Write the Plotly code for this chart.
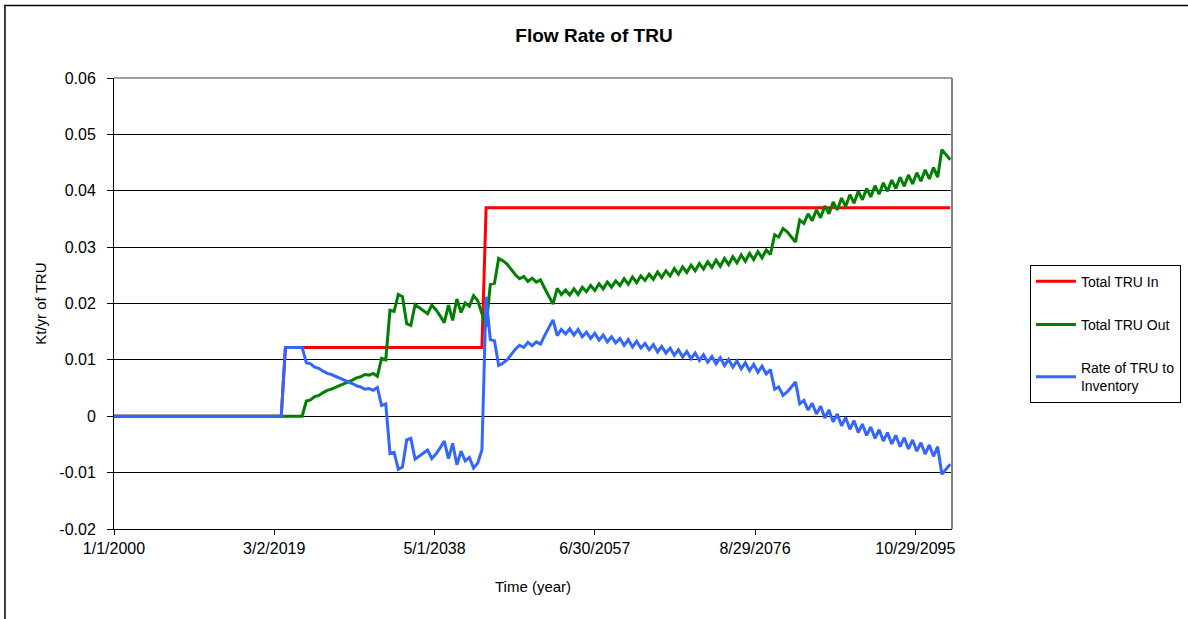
import plotly.graph_objects as go
import pandas as pd
import numpy as np

# half-year time steps, 2000.0 .. 2100.0
dates = pd.date_range("2000-01-01", periods=201, freq="6MS")

# Total TRU In (Kt/yr): step levels
tru_in = [0.0] * 41 + [0.0122] * 48 + [0.037] * 112

# Total TRU Out (Kt/yr)
tru_out = [0.0] * 46 + [
    0.0027, 0.0029, 0.0035, 0.0037, 0.0042, 0.0046, 0.0048, 0.0051,   # 2023-2026
    0.0055, 0.0057, 0.0060, 0.0064, 0.0068, 0.0070, 0.0074, 0.0073,   # 2027-2030
    0.0076, 0.0071, 0.0103, 0.0100, 0.0188, 0.0186, 0.0216, 0.0212,   # 2031-2034
    0.0164, 0.0161, 0.0198, 0.0193, 0.0187, 0.0182, 0.0197, 0.0189,   # 2035-2038
    0.0178, 0.0166, 0.0197, 0.0170, 0.0208, 0.0184, 0.0201, 0.0195,   # 2039-2042
    0.0214, 0.0205, 0.0182, 0.0158, 0.0234, 0.0236, 0.0280, 0.0276,   # 2043-2046
    0.0270, 0.0260, 0.0251, 0.0244, 0.0248, 0.0239, 0.0245, 0.0238,   # 2047-2050
    0.0242, 0.0227, 0.0212, 0.0199, 0.0227, 0.0216, 0.0224, 0.0215,   # 2051-2054
    0.0226, 0.0216, 0.0229, 0.0221, 0.0232, 0.0223, 0.0235, 0.0226,   # 2055-2058
    0.0238, 0.0229, 0.0240, 0.0232, 0.0244, 0.0234, 0.0247, 0.0237,   # 2059-2062
    0.0249, 0.0241, 0.0252, 0.0243, 0.0256, 0.0246, 0.0258, 0.0249,   # 2063-2066
    0.0262, 0.0252, 0.0265, 0.0255, 0.0268, 0.0258, 0.0271, 0.0261,   # 2067-2070
    0.0274, 0.0264, 0.0277, 0.0266, 0.0280, 0.0269, 0.0283, 0.0272,   # 2071-2074
    0.0286, 0.0275, 0.0289, 0.0278, 0.0292, 0.0281, 0.0295, 0.0287,   # 2075-2078
    0.0322, 0.0318, 0.0333, 0.0327, 0.0318, 0.0309, 0.0348, 0.0342,   # 2079-2082
    0.0359, 0.0347, 0.0366, 0.0352, 0.0373, 0.0359, 0.0380, 0.0366,   # 2083-2086
    0.0387, 0.0372, 0.0393, 0.0378, 0.0399, 0.0384, 0.0404, 0.0389,   # 2087-2090
    0.0409, 0.0394, 0.0414, 0.0399, 0.0419, 0.0404, 0.0424, 0.0408,   # 2091-2094
    0.0428, 0.0412, 0.0432, 0.0417, 0.0437, 0.0421, 0.0441, 0.0424,   # 2095-2098
    0.0473, 0.0464, 0.0455,                                           # 2099-2100
]

# rate to inventory = in - out
tru_inv = np.round(np.array(tru_in) - np.array(tru_out), 5)

tick_dates = ["2000-01-01", "2019-03-02", "2038-05-01", "2057-06-30", "2076-08-29", "2095-10-29"]
tick_text = ["1/1/2000", "3/2/2019", "5/1/2038", "6/30/2057", "8/29/2076", "10/29/2095"]
y_ticks = [-0.02, -0.01, 0, 0.01, 0.02, 0.03, 0.04, 0.05, 0.06]
y_text = ["-0.02", "-0.01", "0", "0.01", "0.02", "0.03", "0.04", "0.05", "0.06"]

font = "Arial, 'Liberation Sans', sans-serif"

fig = go.Figure()
fig.add_trace(go.Scatter(x=dates, y=tru_in, mode="lines", name="Total TRU In",
                         line=dict(color="#FF0000", width=3), legendgroup="a"))
fig.add_trace(go.Scatter(x=dates, y=tru_out, mode="lines", name="Total TRU Out",
                         line=dict(color="#008000", width=3), legendgroup="b"))
fig.add_trace(go.Scatter(x=dates, y=tru_inv, mode="lines", name="Rate of TRU to<br>Inventory",
                         line=dict(color="#3366FF", width=3), legendgroup="c"))

fig.update_xaxes(type="date", range=["2000-01-01", "2100-03-19"],
                 tickvals=tick_dates, ticktext=tick_text,
                 showgrid=False, showline=True, linecolor="black", linewidth=1,
                 ticks="outside", ticklen=5, tickcolor="black",
                 tickfont=dict(size=16, color="black"))
fig.update_yaxes(range=[-0.02, 0.06], tickvals=y_ticks, ticktext=y_text,
                 showgrid=True, gridcolor="black", gridwidth=1, zeroline=False,
                 showline=True, linecolor="black", linewidth=1,
                 ticks="outside", ticklen=6, tickcolor="black", ticklabelstandoff=8,
                 tickfont=dict(size=16, color="black"))

fig.update_layout(
    width=1188, height=619,
    margin=dict(l=114, r=236, t=78, b=90, autoexpand=False),
    plot_bgcolor="white", paper_bgcolor="white",
    font=dict(family=font, color="black"),
    title=dict(text="<b>Flow Rate of TRU</b>", x=0.5, xref="container", xanchor="center",
               y=1 - 35 / 619, yanchor="middle", font=dict(size=19, color="black")),
    showlegend=True,
    legend=dict(x=1.093, y=0.586, xanchor="left", yanchor="top",
                bordercolor="black", borderwidth=1, bgcolor="white",
                font=dict(size=14), tracegroupgap=22, itemwidth=40),
)

# axis titles
fig.add_annotation(text="Time (year)", xref="paper", yref="paper", x=0.5, y=-0.127,
                   showarrow=False, font=dict(size=15), xanchor="center", yanchor="middle")
fig.add_annotation(text="Kt/yr of TRU", xref="paper", yref="paper", x=-0.088, y=0.5,
                   showarrow=False, textangle=-90, font=dict(size=15),
                   xanchor="center", yanchor="middle")

# chart border and gray plot-area border (top/right)
fig.add_shape(type="rect", xref="paper", yref="paper", x0=-0.1301, x1=1.4, y0=-0.3, y1=1.161,
              line=dict(color="black", width=1.5))
fig.add_shape(type="line", xref="paper", yref="paper", x0=0, x1=1, y0=1, y1=1,
              line=dict(color="#808080", width=1.5), layer="above")
fig.add_shape(type="line", xref="paper", yref="paper", x0=1, x1=1, y0=0, y1=1,
              line=dict(color="#808080", width=2), layer="above")

# drop the default page margin so the figure sits at the window origin
fig.write_html("out.html", config={"displayModeBar": False},
               post_script="document.body.style.margin='0';")
